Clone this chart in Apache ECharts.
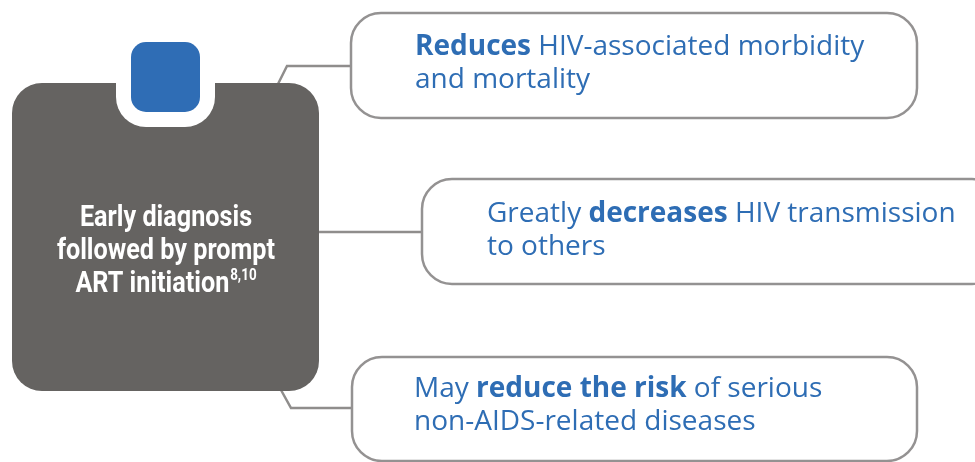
<!DOCTYPE html>
<html>
<head>
<meta charset="utf-8">
<script src="https://cdn.jsdelivr.net/npm/echarts@6/dist/echarts.min.js"></script>
<style>html,body{margin:0;padding:0;background:#fff}#c{width:975px;height:462px}</style>
</head>
<body>
<div id="c"></div>
<script>
// Central message (lines), and superscript reference
const centerLines = ['Early diagnosis', 'followed by prompt', 'ART initiation'];
const centerRefs = '8,10';
// Benefits: each item is a list of lines, each line a list of [text, bold]
const benefit1 = [[['Reduces', true], [' HIV-associated morbidity', false]], [['and mortality', false]]];
const benefit2 = [[['Greatly ', false], ['decreases', true], [' HIV transmission', false]], [['to others', false]]];
const benefit3 = [[['May ', false], ['reduce the risk', true], [' of serious', false]], [['non-AIDS-related diseases', false]]];
const benefits = [benefit1, benefit2, benefit3];

const GRAY = '#656361', BLUE = '#2f6db5', LINE = '#8f8d8c', BORDER = '#949292', TXT = '#2e6db4';
const FONT = '"Open Sans", "Noto Sans", sans-serif';

function richText(lines) {
  return lines.map(l => l.map(([t, b]) => '{' + (b ? 'b' : 'n') + '|' + t + '}').join('')).join('\n');
}

// layout (boxes)
const boxes = [
  {x: 351, y: 13, w: 566, h: 105, tx: 415, ty: 31},
  {x: 422, y: 179, w: 580, h: 105, tx: 487, ty: 198},
  {x: 352, y: 357, w: 565, h: 104, tx: 414, ty: 373}
];

const graphic = [];
// connectors
graphic.push({type: 'polyline', shape: {points: [[278, 84], [287, 66], [352, 66]]}, style: {stroke: LINE, lineWidth: 2.5, fill: null}, z: 1});
graphic.push({type: 'line', shape: {x1: 300, y1: 232, x2: 423, y2: 232}, style: {stroke: LINE, lineWidth: 2.5}, z: 1});
graphic.push({type: 'polyline', shape: {points: [[281, 390], [291, 408], [353, 408]]}, style: {stroke: LINE, lineWidth: 2.5, fill: null}, z: 1});

// central gray box with notch and blue square
graphic.push({type: 'rect', shape: {x: 12, y: 83, width: 307, height: 308, r: 30}, style: {fill: GRAY}, z: 2});
graphic.push({type: 'rect', shape: {x: 116, y: 70, width: 99, height: 57, r: [0, 0, 30, 30]}, style: {fill: '#fff'}, z: 3});
graphic.push({type: 'rect', shape: {x: 131, y: 42, width: 69, height: 70, r: 15}, style: {fill: BLUE}, z: 4});

graphic.push({
  type: 'text', z: 5, x: 166, y: 202, scaleX: 0.84,
  style: {
    x: 0, y: 0, textAlign: 'center', textVerticalAlign: 'top',
    text: centerLines.map((l, i) => '{m|' + l + '}' + (i === centerLines.length - 1 ? '{s|' + centerRefs + '}' : '')).join('\n'),
    rich: {
      m: {fontFamily: 'Roboto, sans-serif', fontWeight: 'bold', fontSize: 30, lineHeight: 33, fill: '#fff'},
      s: {fontFamily: 'Roboto, sans-serif', fontWeight: 'bold', fontSize: 16, lineHeight: 33, fill: '#fff', verticalAlign: 'top', padding: [0, 0, 10, 1]}
    }
  }
});

benefits.forEach((b, i) => {
  const bx = boxes[i];
  graphic.push({type: 'rect', shape: {x: bx.x, y: bx.y, width: bx.w, height: bx.h, r: 30}, style: {fill: '#fff', stroke: BORDER, lineWidth: 2.5}, z: 2});
  graphic.push({
    type: 'text', z: 5,
    style: {
      x: bx.tx, y: bx.ty, textAlign: 'left', textVerticalAlign: 'top',
      text: richText(b),
      rich: {
        n: {fontFamily: FONT, fontSize: 28, lineHeight: 33, fill: TXT},
        b: {fontFamily: FONT, fontWeight: 'bold', fontSize: 28, lineHeight: 33, fill: TXT}
      }
    }
  });
});

const chart = echarts.init(document.getElementById('c'), null, {renderer: 'canvas'});
chart.setOption({animation: false, graphic: graphic});
</script>
</body>
</html>
